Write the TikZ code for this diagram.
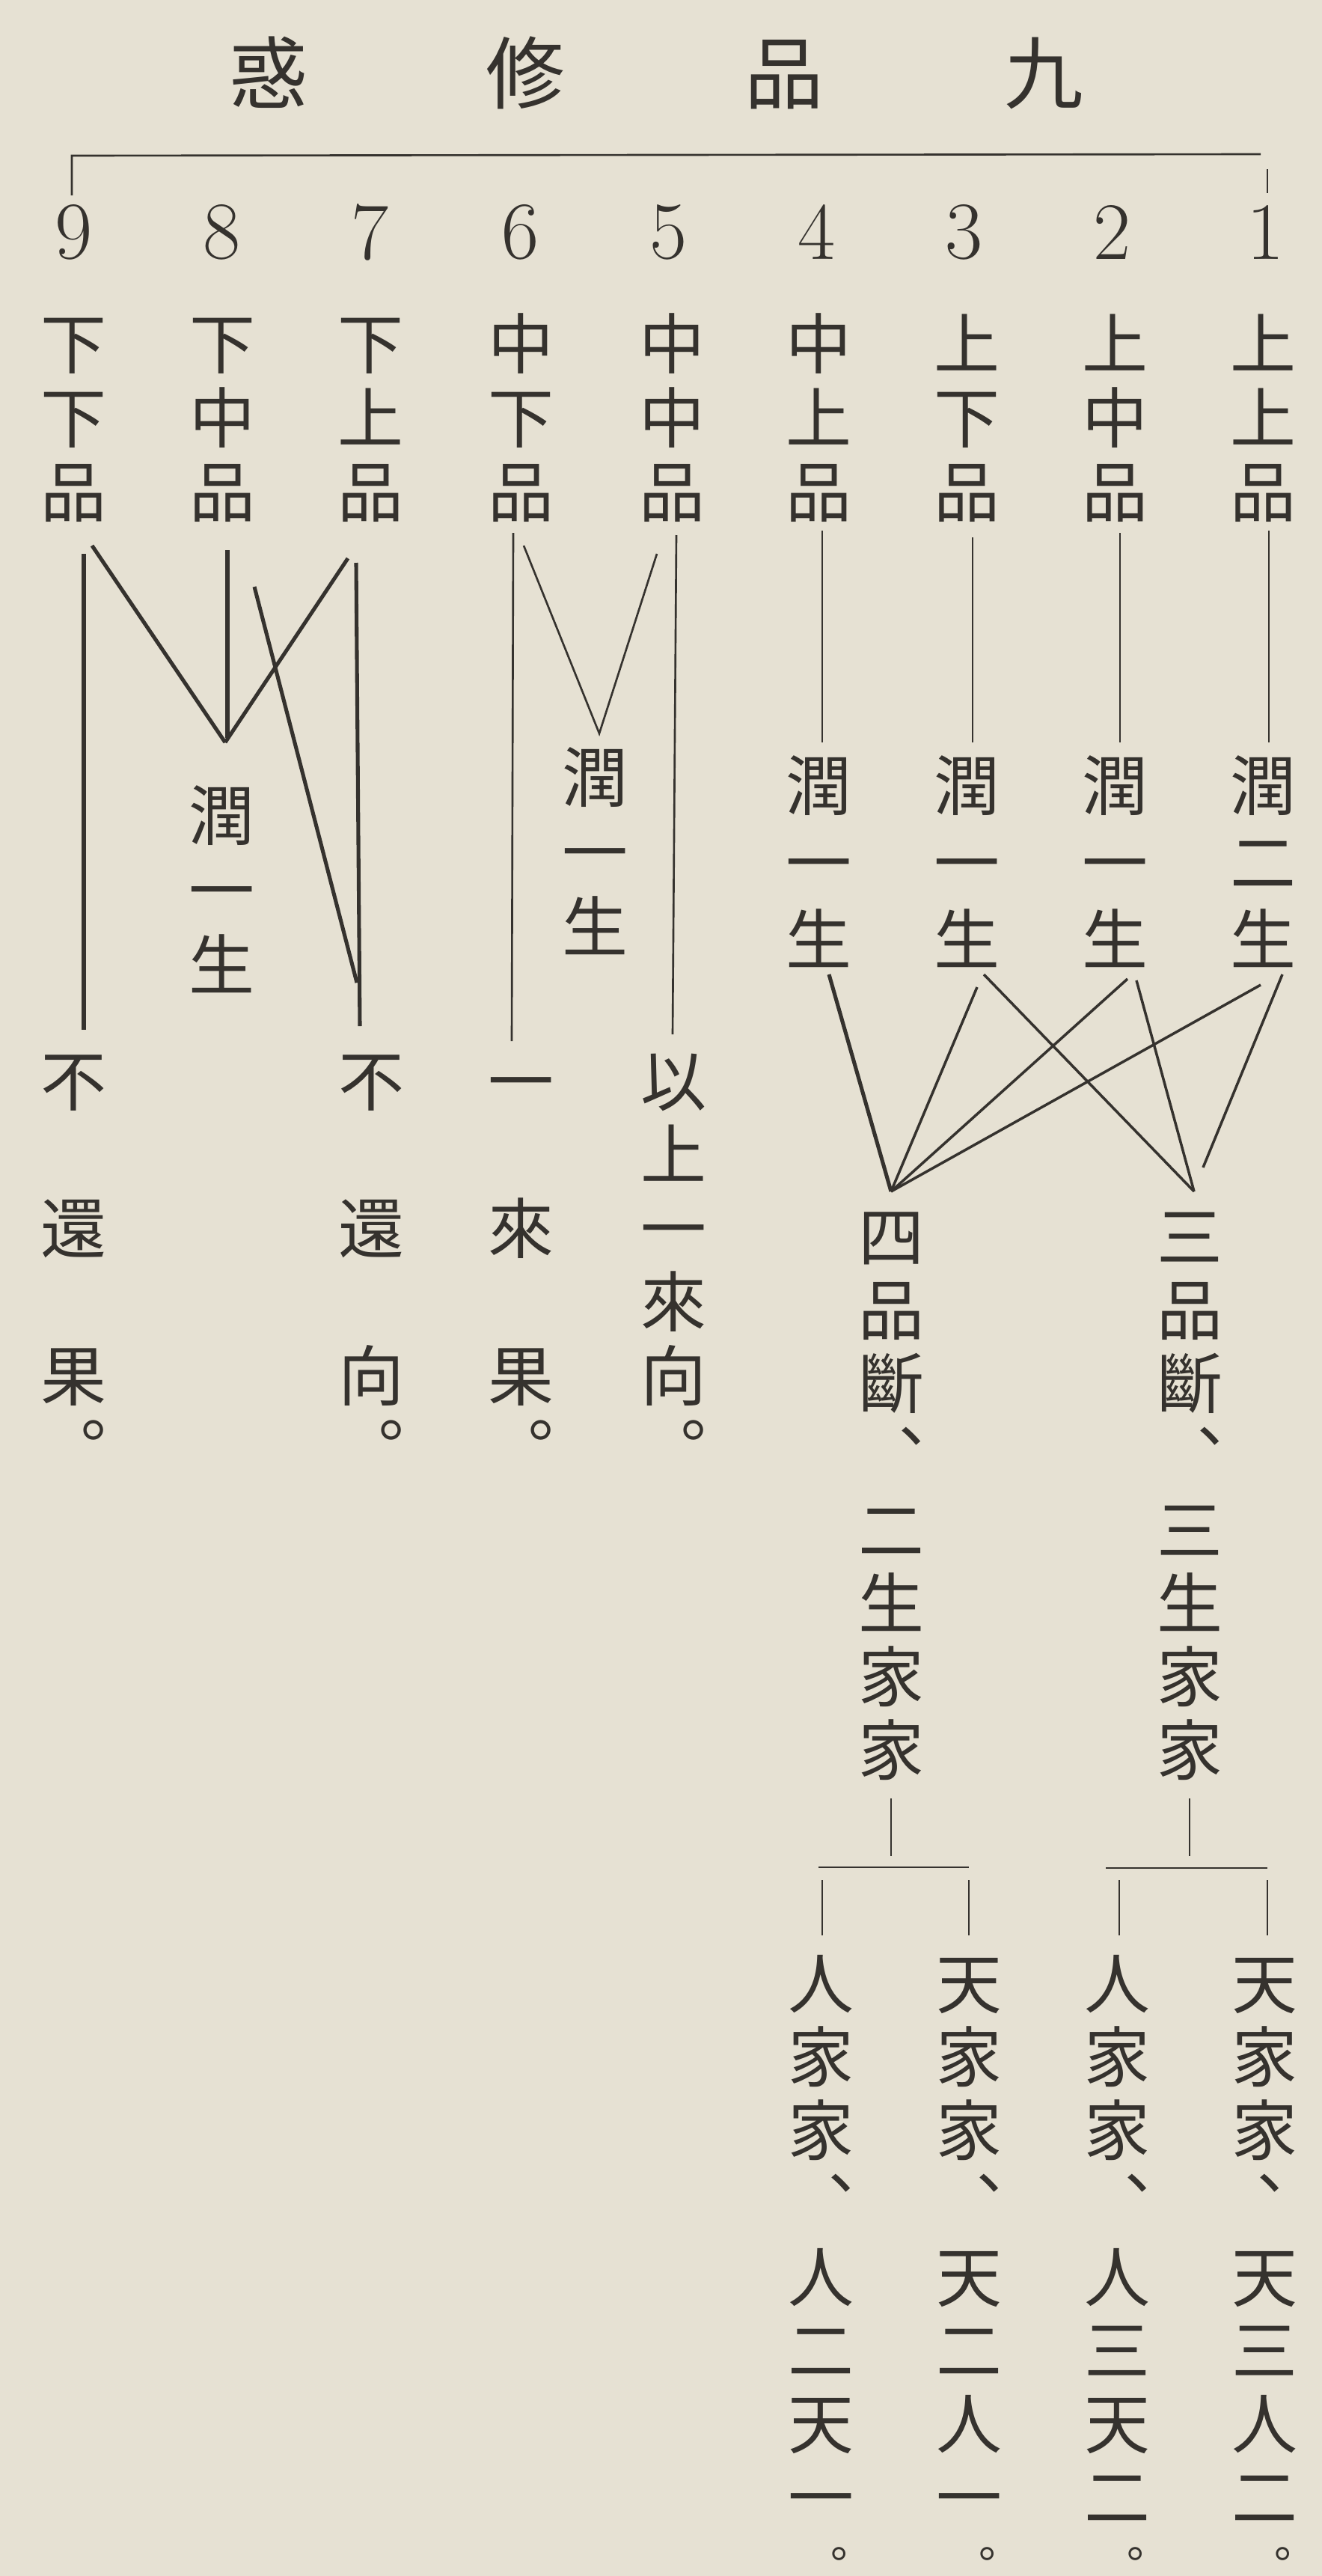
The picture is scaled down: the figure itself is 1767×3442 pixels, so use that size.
\documentclass[tikz,border=0pt]{standalone}
\usepackage{fontspec}
\newfontfamily\cjk{Noto Sans CJK JP}
\newfontfamily\cjktc{Noto Sans CJK TC}
\definecolor{paper}{HTML}{E6E1D3}
\definecolor{ink}{HTML}{35322E}
\tikzset{
  cj/.style={font=\cjk\fontsize{25}{25}\selectfont, text=ink, inner sep=0pt,
             text height=22pt, text depth=3pt, anchor=center},
  stoptc/.style={font=\cjktc\fontsize{16.5}{16.5}\selectfont, text=ink, inner sep=0pt,
             text height=14.52pt, text depth=1.98pt, anchor=center},
  ttl/.style={font=\cjk\fontsize{30}{30}\selectfont, text=ink, inner sep=0pt,
             text height=26.4pt, text depth=3.6pt, anchor=center},
  num/.style={font=\fontsize{31}{31}\selectfont, text=ink, inner sep=0pt, anchor=center},
  thin/.style={draw=ink, line width=0.75pt},
  mid/.style={draw=ink, line width=1.0pt},
  thick/.style={draw=ink, line width=1.45pt},
}
\newcommand\vcol[5]{%
  \foreach \k/\ch in {#5} {\node[cj] (#1-\k) at (#2,{#3+#4*\k}) {\ch};}%
}
\begin{document}
\begin{tikzpicture}[x=0.01cm,y=-0.01cm]
\useasboundingbox[fill=paper] (0,0) rectangle (1767,3442);

% title
\node[ttl] (ti4) at (359,97) {惑};
\node[ttl] (ti3) at (702,97) {修};
\node[ttl] (ti2) at (1048,97) {品};
\node[ttl] (ti1) at (1395,97) {九};

% header bracket
\coordinate (hbL) at (96,208);
\coordinate (hbR) at (1685,206);
\coordinate (hbLd) at (96,261);
\coordinate (hbRa) at (1694,226);
\coordinate (hbRb) at (1694,258);
\draw[thin] (hbLd) -- (hbL) -- (hbR);
\draw[thin] (hbRa) -- (hbRb);

% numbers
\node[num] (n9) at (99,310) {9};
\node[num] (n8) at (297,310) {8};
\node[num] (n7) at (495,310) {7};
\node[num] (n6) at (696,310) {6};
\node[num] (n5) at (894,310) {5};
\node[num] (n4) at (1092,310) {4};
\node[num] (n3) at (1289,310) {3};
\node[num] (n2) at (1486,310) {2};
\node[num] (n1) at (1691,310) {1};

% nine grades
\vcol{t9}{98}{459}{99}{0/下,1/下,2/品}
\vcol{t8}{297}{459}{99}{0/下,1/中,2/品}
\vcol{t7}{495}{459}{99}{0/下,1/上,2/品}
\vcol{t6}{696}{459}{99}{0/中,1/下,2/品}
\vcol{t5}{898}{459}{99}{0/中,1/中,2/品}
\vcol{t4}{1094}{459}{99}{0/中,1/上,2/品}
\vcol{t3}{1292}{459}{99}{0/上,1/下,2/品}
\vcol{t2}{1490}{459}{99}{0/上,1/中,2/品}
\vcol{t1}{1688}{459}{99}{0/上,1/上,2/品}

% rebirths
\vcol{r8}{296}{1089}{100}{0/潤,1/一,2/生}
\vcol{r6}{795}{1038}{100}{0/潤,1/一,2/生}
\vcol{r4}{1094}{1049}{103}{0/潤,1/一,2/生}
\vcol{r3}{1292}{1049}{103}{0/潤,1/一,2/生}
\vcol{r2}{1490}{1049}{103}{0/潤,1/一,2/生}
\vcol{r1}{1688}{1049}{103}{0/潤,1/二,2/生}

% fruits
\vcol{b9}{98}{1444}{98.5}{0/不,2/還,4/果,5/︒}
\vcol{b7}{496}{1444}{98.5}{0/不,2/還,4/向,5/︒}
\vcol{b6}{696}{1444}{98.5}{0/一,2/來,4/果,5/︒}
\vcol{b5}{900}{1444}{98.5}{0/以,1/上,2/一,3/來,4/向,5/︒}

% families
\vcol{q4}{1191}{1652}{98}{0/四,1/品,2/斷,3/︑,4/二,5/生,6/家,7/家}
\vcol{q3}{1590}{1652}{98}{0/三,1/品,2/斷,3/︑,4/三,5/生,6/家,7/家}

\vcol{l4}{1097}{2650}{98}{0/人,1/家,2/家,3/︑,4/人,5/二,6/天,7/一}
\vcol{l3}{1295}{2650}{98}{0/天,1/家,2/家,3/︑,4/天,5/二,6/人,7/一}
\vcol{l2}{1493}{2650}{98}{0/人,1/家,2/家,3/︑,4/人,5/三,6/天,7/二}
\vcol{l1}{1690}{2650}{98}{0/天,1/家,2/家,4/天,5/三,6/人,7/二}
\node[cj] (l1-3) at (1670,2944) {︑};
\node[stoptc] (l4-8) at (1121,3412) {。};
\node[stoptc] (l3-8) at (1319,3412) {。};
\node[stoptc] (l2-8) at (1517,3412) {。};
\node[stoptc] (l1-8) at (1714,3412) {。};

% ---- connectors, left part
\coordinate (a9t) at (112,740);  \coordinate (a9b) at (112,1376);
\coordinate (d9t) at (123,729);  \coordinate (ap8) at (301,992);
\coordinate (a8t) at (304,735);  \coordinate (a8b) at (304,986);
\coordinate (d7t) at (465,746);
\coordinate (lgt) at (340,784);  \coordinate (lgb) at (477,1313);
\coordinate (a7t) at (476,752);  \coordinate (a7b) at (481,1371);
\draw[thick] (a9t) -- (a9b);
\draw[thick] (d9t) -- (ap8);
\draw[thick] (a8t) -- (a8b);
\draw[thick] (d7t) -- (ap8);
\draw[thick] (lgt) -- (lgb);
\draw[thick] (a7t) -- (a7b);

\coordinate (a6t) at (686,712);  \coordinate (a6b) at (684,1391);
\coordinate (d6t) at (700,729);  \coordinate (ap6) at (801,980);
\coordinate (d5t) at (878,740);
\coordinate (a5t) at (904,715);  \coordinate (a5b) at (899,1382);
\draw[thin] (a6t) -- (a6b);
\draw[thin] (d6t) -- (ap6) -- (d5t);
\draw[thin] (a5t) -- (a5b);

% ---- connectors, right part
\coordinate (a4t) at (1099,709); \coordinate (a4b) at (1099,992);
\coordinate (a3t) at (1300,718); \coordinate (a3b) at (1300,992);
\coordinate (a2t) at (1497,712); \coordinate (a2b) at (1497,992);
\coordinate (a1t) at (1696,709); \coordinate (a1b) at (1696,992);
\draw[thin] (a4t) -- (a4b);
\draw[thin] (a3t) -- (a3b);
\draw[thin] (a2t) -- (a2b);
\draw[thin] (a1t) -- (a1b);

\coordinate (ap4) at (1191,1592);
\coordinate (ap3) at (1596,1592);
\coordinate (s4a) at (1108,1302);
\coordinate (s3a) at (1306,1319);
\coordinate (s2a) at (1507,1308);
\coordinate (s1a) at (1685,1316);
\coordinate (s3b) at (1315,1302);
\coordinate (s2b) at (1519,1310);
\coordinate (s1b) at (1714,1302);
\coordinate (ap3e) at (1608,1560);
\draw[thick] (s4a) -- (ap4);
\draw[mid] (s3a) -- (ap4);
\draw[mid] (s2a) -- (ap4);
\draw[mid] (s1a) -- (ap4);
\draw[mid] (s3b) -- (ap3);
\draw[mid] (s2b) -- (ap3);
\draw[mid] (s1b) -- (ap3e);

% ---- family brackets
\coordinate (f4a) at (1191,2403); \coordinate (f4b) at (1191,2480);
\coordinate (h4L) at (1094,2495); \coordinate (h4R) at (1295,2495);
\coordinate (k4La) at (1099,2512); \coordinate (k4Lb) at (1099,2586);
\coordinate (k4Ra) at (1295,2512); \coordinate (k4Rb) at (1295,2586);
\draw[thin] (f4a) -- (f4b);
\draw[thin] (h4L) -- (h4R);
\draw[thin] (k4La) -- (k4Lb);
\draw[thin] (k4Ra) -- (k4Rb);

\coordinate (f3a) at (1590,2403); \coordinate (f3b) at (1590,2480);
\coordinate (h3L) at (1478,2496); \coordinate (h3R) at (1694,2496);
\coordinate (k3La) at (1496,2512); \coordinate (k3Lb) at (1496,2586);
\coordinate (k3Ra) at (1694,2512); \coordinate (k3Rb) at (1694,2586);
\draw[thin] (f3a) -- (f3b);
\draw[thin] (h3L) -- (h3R);
\draw[thin] (k3La) -- (k3Lb);
\draw[thin, dash pattern=on 30\pgflinewidth off 10\pgflinewidth] (k3Ra) -- (k3Rb);
\end{tikzpicture}
\end{document}
